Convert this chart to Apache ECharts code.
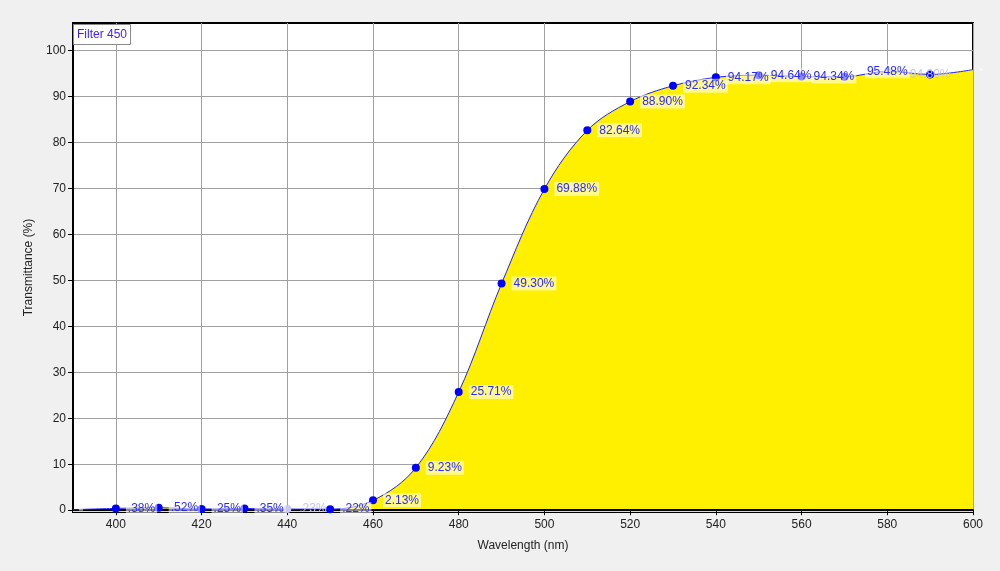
<!DOCTYPE html>
<html>
<head>
<meta charset="utf-8">
<script src="https://cdn.jsdelivr.net/npm/echarts@6/dist/echarts.min.js"></script>
<style>
html,body{margin:0;padding:0;background:#f0f0f0;}
#c{width:1000px;height:571px;}
</style>
</head>
<body>
<div id="c"></div>
<script>
const title = 'Filter 450';
const wavelengths = [390,400,410,420,430,440,450,460,470,480,490,500,510,520,530,540,550,560,570,580,590,600];
const transmittance = [0.10,0.38,0.52,0.25,0.35,0.23,0.22,2.13,9.23,25.71,49.30,69.88,82.64,88.90,92.34,94.17,94.64,94.34,94.30,95.48,94.80,95.85];
const xTicks = [400,420,440,460,480,500,520,540,560,580,600];
const yTicks = [0,10,20,30,40,50,60,70,80,90,100];

const font = 'Liberation Sans, Arial, sans-serif';
const last = wavelengths.length - 1;
function fmt(v){
  let s = v.toFixed(2);
  if (s.startsWith('0')) s = s.slice(1);
  return s + '%';
}
// overlapped labels / markers in the original are drawn faded or centred
const fadedLabelAt = [440, 590];
const fadedMarkerAt = [440, 580];
const hiddenAt = [570];
const centredAt = [580, 590];
const data = wavelengths.map((w,i)=>{
  const item = {value:[w, transmittance[i]]};
  const lab = {};
  if (fadedLabelAt.includes(w)) { lab.color = '#c4c4f4'; lab.backgroundColor = 'rgba(255,255,255,0)'; }
  if (hiddenAt.includes(w)) lab.show = false;
  if (centredAt.includes(w)) { lab.position = 'inside'; }
  if (fadedMarkerAt.includes(w)) item.itemStyle = {color:'#c8c8f8'};
  item.label = lab;
  return item;
});

const chart = echarts.init(document.getElementById('c'));
chart.setOption({
  backgroundColor:'#f0f0f0',
  animation:false,
  title:{
    text:title, left:73, top:24,
    padding:[5,4,4,4],
    borderColor:'#8a8a8a', borderWidth:1, backgroundColor:'#fff',
    textStyle:{fontFamily:font,fontSize:12,fontWeight:'normal',color:'#4020ff'}
  },
  grid:{left:73,right:27,top:23,bottom:59,show:true,backgroundColor:'#fff',borderColor:'#000',borderWidth:2,containLabel:false},
  xAxis:{
    type:'value', min:390, max:600, z:3,
    name:'Wavelength (nm)', nameLocation:'middle', nameGap:28,
    nameTextStyle:{fontFamily:font,fontSize:12,color:'#222'},
    axisLine:{lineStyle:{color:'#000',width:2}},
    axisTick:{show:true,length:5,customValues:xTicks,lineStyle:{color:'#000'}},
    axisLabel:{customValues:xTicks,fontFamily:font,fontSize:12,color:'#222',margin:7},
    splitLine:{show:true,lineStyle:{color:'#a0a0a0',width:1}}
  },
  yAxis:{
    type:'value', min:-0.4, max:106,
    name:'Transmittance (%)', nameLocation:'middle', nameGap:37,
    nameTextStyle:{fontFamily:font,fontSize:12,color:'#222'},
    axisLine:{show:true,lineStyle:{color:'#000',width:2}},
    axisTick:{show:true,length:5,customValues:yTicks,lineStyle:{color:'#000'}},
    axisLabel:{customValues:yTicks,fontFamily:font,fontSize:12,color:'#222',margin:7},
    splitLine:{show:true,lineStyle:{color:'#a0a0a0',width:1}}
  },
  series:[{
    type:'line',
    data:data,
    smooth:0.35,
    symbol:'circle',
    symbolSize:(v,p)=> (p.dataIndex===0||p.dataIndex===last)?0:8,
    itemStyle:{color:'#0000ff'},
    lineStyle:{color:'#2020ff',width:1},
    areaStyle:{color:'#fff000',opacity:1,origin:'start'},
    label:{
      show:true, position:'right', distance:6,
      fontFamily:font, fontSize:12, color:'#2a2aff',
      backgroundColor:'rgba(255,255,255,0.55)', padding:[1,2],
      formatter:(p)=> (p.dataIndex===0||p.dataIndex===last)?'':fmt(p.value[1])
    }
  }]
});
</script>
</body>
</html>
